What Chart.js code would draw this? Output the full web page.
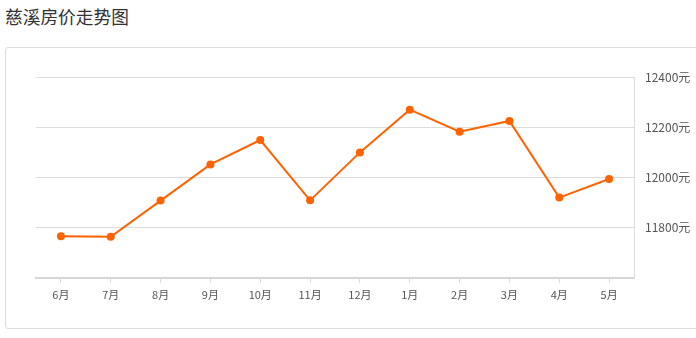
<!DOCTYPE html>
<html>
<head>
<meta charset="utf-8">
<script src="https://cdn.jsdelivr.net/npm/chart.js@4.4.1/dist/chart.umd.min.js"></script>
<style>
    html, body { margin: 0; padding: 0; background: #fff; }
    body { width: 696px; height: 338px; position: relative; overflow: hidden;
           font-family: "Noto Sans CJK SC", "Noto Sans", sans-serif; }
    .title { position: absolute; left: 5px; top: 5px; font-size: 17.7px; color: #333; line-height: 22px; }
    .card { position: absolute; left: 5px; top: 47px; width: 720px; height: 282px;
            border: 1px solid #ddd; border-radius: 3px; box-sizing: border-box; }
    #priceChart { position: absolute; left: 0; top: 0; }
</style>
</head>
<body>
<div class="title">慈溪房价走势图</div>
<div class="card"></div>
<canvas id="priceChart" width="696" height="338"></canvas>
<script>
// 月份
const months = ['6月', '7月', '8月', '9月', '10月', '11月', '12月', '1月', '2月', '3月', '4月', '5月'];
// 均价（元/平方米）
const prices = [11766, 11764, 11908, 12052, 12149, 11909, 12100, 12270, 12182, 12225, 11920, 11994];
// 纵轴刻度
const yTicks = [11600, 11800, 12000, 12200, 12400];

document.addEventListener('DOMContentLoaded', () => {
    const ctx = document.getElementById('priceChart').getContext('2d');
    const lineColor = '#ff6200';

    new Chart(ctx, {
        type: 'line',
        data: {
            labels: months,
            datasets: [{
                data: prices,
                borderColor: lineColor,
                backgroundColor: lineColor,
                borderWidth: 2,
                tension: 0,
                pointRadius: 4,
                pointBorderWidth: 0,
                pointBackgroundColor: lineColor
            }]
        },
        options: {
            responsive: false,
            animation: false,
            layout: { padding: { left: 36, top: 77, right: 0, bottom: 30 } },
            plugins: {
                legend: { display: false },
                tooltip: { enabled: false }
            },
            scales: {
                x: {
                    offset: true,
                    grid: {
                        drawOnChartArea: false,
                        drawTicks: true,
                        tickLength: 5,
                        color: '#ddd'
                    },
                    border: { color: '#d6d6d6', width: 2 },
                    ticks: {
                        color: '#555',
                        padding: 5,
                        maxRotation: 0,
                        font: { size: 11, family: '"Noto Sans CJK SC", sans-serif' }
                    },
                    afterFit: scale => { scale.height = 30; }
                },
                y: {
                    position: 'right',
                    min: yTicks[0],
                    max: yTicks[yTicks.length - 1],
                    afterBuildTicks: scale => {
                        scale.ticks = yTicks.map(v => ({ value: v }));
                    },
                    grid: { color: '#ddd', drawTicks: false },
                    border: { color: '#ddd', width: 1 },
                    ticks: {
                        color: '#555',
                        padding: 11,
                        font: { size: 12, family: '"Noto Sans CJK SC", sans-serif' },
                        callback: v => v === yTicks[0] ? '' : v + '元'
                    },
                    afterFit: scale => { scale.width = 62; }
                }
            }
        }
    });
});
</script>
</body>
</html>
